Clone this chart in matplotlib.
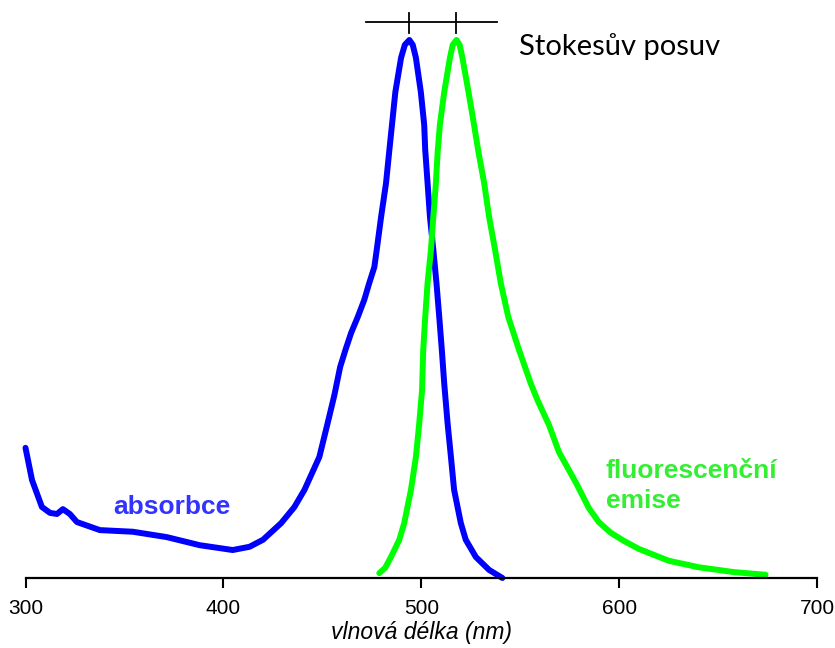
import matplotlib.pyplot as plt

# absorption spectrum (blue), values relative to the peak
abs_nm = [300.0, 303.3, 308.3, 312.4, 315.9, 318.9, 322.4, 326.0, 337.6, 354.2, 371.4, 388.0,
          404.7, 413.2, 420.0, 429.2, 435.9, 441.0, 448.5, 452.7, 456.1, 459.0, 461.7, 464.5,
          467.9, 471.2, 473.7, 476.3, 477.5, 479.7, 482.2, 483.9, 485.2, 486.9, 489.8, 491.7,
          494.0, 495.7, 497.3, 499.8, 501.5, 502.0, 503.2, 504.4, 506.1, 507.7, 509.1, 510.4,
          511.6, 513.3, 515.0, 516.6, 520.0, 522.5, 527.6, 534.3, 541.0]
abs_val = [0.242, 0.182, 0.132, 0.121, 0.119, 0.128, 0.119, 0.104, 0.089, 0.086, 0.076, 0.061,
           0.052, 0.058, 0.071, 0.102, 0.132, 0.164, 0.225, 0.288, 0.340, 0.392, 0.424, 0.455,
           0.485, 0.517, 0.548, 0.578, 0.610, 0.671, 0.734, 0.796, 0.842, 0.903, 0.967, 0.991,
           1.0, 0.991, 0.967, 0.903, 0.842, 0.796, 0.734, 0.671, 0.610, 0.548, 0.485, 0.424,
           0.362, 0.288, 0.225, 0.164, 0.102, 0.071, 0.039, 0.015, 0.0]

# fluorescence emission spectrum (green)
em_nm = [478.8, 481.8, 484.7, 488.9, 491.4, 494.8, 497.3, 499.0, 500.4, 501.0, 502.0, 503.2,
         504.9, 506.1, 507.4, 508.3, 509.4, 511.6, 514.5, 515.9, 517.8, 519.4, 520.8, 523.9,
         526.7, 528.9, 531.8, 534.3, 537.3, 540.2, 544.0, 549.4, 555.3, 558.7, 564.6, 569.6,
         578.2, 584.7, 589.7, 595.8, 602.4, 610.0, 625.1, 640.2, 657.9, 674.0]
em_val = [0.009, 0.019, 0.039, 0.071, 0.102, 0.164, 0.225, 0.288, 0.349, 0.424, 0.485, 0.548,
          0.610, 0.671, 0.734, 0.792, 0.842, 0.903, 0.967, 0.991, 1.0, 0.991, 0.967, 0.903,
          0.842, 0.792, 0.734, 0.671, 0.610, 0.548, 0.485, 0.424, 0.362, 0.331, 0.284, 0.234,
          0.177, 0.130, 0.104, 0.084, 0.069, 0.054, 0.032, 0.020, 0.011, 0.006]

abs_peak = 494.0
em_peak = 517.8
stokes_bar = [472.3, 538.3]
xticks = [300, 400, 500, 600, 700]

plt.rcParams['font.family'] = 'Liberation Sans'

fig = plt.figure(figsize=(8.35, 6.48), dpi=100)
ax = fig.add_axes([25.5 / 835, 70 / 648, (817 - 25.5) / 835, 578 / 648])

ax.plot(abs_nm, abs_val, color='#0000ff', lw=4.3, solid_capstyle='round',
        solid_joinstyle='round', clip_on=False)
ax.plot(em_nm, em_val, color='#00ff00', lw=4.3, solid_capstyle='round',
        solid_joinstyle='round', clip_on=False)

# Stokes shift marker
ax.plot(stokes_bar, [1.033, 1.033], color='black', lw=1.3, clip_on=False)
ax.plot([abs_peak, abs_peak], [1.013, 1.050], color='black', lw=1.3, clip_on=False)
ax.plot([em_peak, em_peak], [1.013, 1.050], color='black', lw=1.3, clip_on=False)
ax.text(549.4, 0.987, 'Stokesův posuv', fontsize=21, family='Lato',
        ha='left', va='center', color='black')

ax.text(373.9, 0.132, 'absorbce', fontsize=19, fontweight='bold', color='#3333ff',
        ha='center', va='center')
ax.text(593.3, 0.171, 'fluorescenční\nemise', fontsize=19, fontweight='bold', color='#33ee33',
        ha='left', va='center', linespacing=1.36)

ax.set_xlim(300, 700)
ax.set_ylim(0, 578 / 538)
ax.set_xticks(xticks)
ax.set_xticklabels([str(t) for t in xticks], fontsize=15)
ax.set_yticks([])
for s in ['left', 'top', 'right']:
    ax.spines[s].set_visible(False)
ax.spines['bottom'].set_linewidth(1.6)
ax.tick_params(axis='x', direction='out', length=7, width=1.5, pad=8)
ax.set_xlabel('vlnová délka (nm)', fontsize=16.5, fontstyle='italic', labelpad=2)

fig.savefig('out.png', dpi=100)
